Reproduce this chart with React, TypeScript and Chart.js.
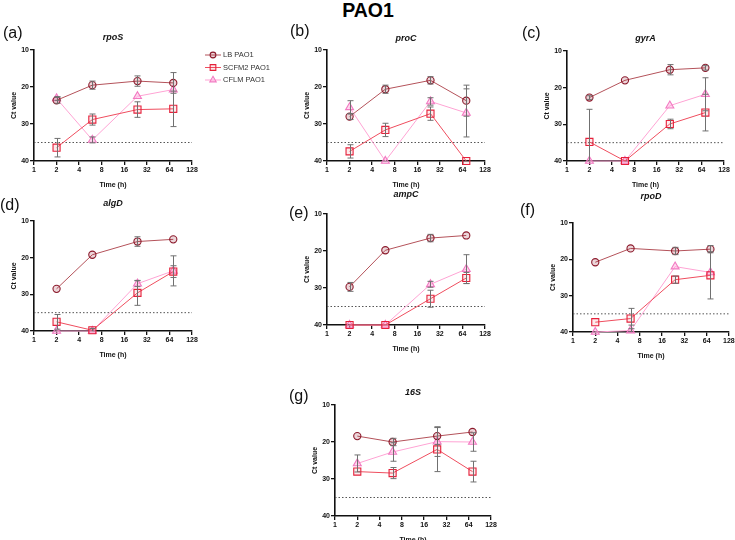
import React, { useEffect, useRef } from 'react';
import { Chart, registerables } from 'chart.js';
Chart.register(...registerables);
Chart.defaults.font.family = "'Liberation Sans', Arial, sans-serif";

// ---------- data ----------
const figureTitle = 'PAO1';
const seriesNames = ['LB PAO1', 'SCFM2 PAO1', 'CFLM PAO1'];
const timePoints = [2, 6, 24, 72];
const xTicks = [1, 2, 4, 8, 16, 32, 64, 128];
const yTicks = [10, 20, 30, 40];
const detectionLimit = 35;
const xTitle = 'Time (h)';
const yTitle = 'Ct value';

const rpoS_LB = [23.6, 19.5, 18.4, 18.9];
const rpoS_LB_err = [0.8, 1.1, 1.4, 2.8];
const rpoS_SCFM2 = [36.4, 28.8, 26.1, 25.9];
const rpoS_SCFM2_err = [2.5, 1.5, 2.1, 4.8];
const rpoS_CFLM = [23.1, 34.3, 22.5, 20.7];
const rpoS_CFLM_err = [0.5, 0.8, 0, 0];

const proC_LB = [28.0, 20.6, 18.2, 23.7];
const proC_LB_err = [0.8, 1.1, 1.0, 4.2];
const proC_SCFM2 = [37.4, 31.6, 27.2, 40];
const proC_SCFM2_err = [1.8, 1.8, 1.8, 0];
const proC_CFLM = [25.5, 40, 23.9, 27.0];
const proC_CFLM_err = [1.8, 0, 1.0, 6.5];

const gyrA_LB = [22.7, 18.0, 15.1, 14.6];
const gyrA_LB_err = [0.5, 0, 1.4, 0.6];
const gyrA_SCFM2 = [34.8, 40, 29.9, 26.8];
const gyrA_SCFM2_err = [8.9, 0, 1.3, 5.0];
const gyrA_CFLM = [40, 40, 24.9, 21.8];
const gyrA_CFLM_err = [0, 0, 0, 4.5];

const algD_LB = [28.5, 19.2, 15.6, 15.0];
const algD_LB_err = [0, 0, 1.3, 0];
const algD_SCFM2 = [37.5, 39.8, 29.6, 23.8];
const algD_SCFM2_err = [2.0, 0.5, 3.4, 1.6];
const algD_CFLM = [40, 40, 27.1, 23.6];
const algD_CFLM_err = [0, 0, 0.8, 4.1];

const ampC_LB = [29.7, 19.8, 16.5, 15.8];
const ampC_LB_err = [1.2, 0, 1.0, 0];
const ampC_SCFM2 = [40, 40, 32.9, 27.3];
const ampC_SCFM2_err = [0, 0, 2.3, 1.5];
const ampC_CFLM = [40, 40, 29.0, 24.9];
const ampC_CFLM_err = [0, 0, 0.8, 3.9];

const rpoD_LB = [20.8, 17.0, 17.7, 17.2];
const rpoD_LB_err = [0, 0, 1.0, 1.0];
const rpoD_SCFM2 = [37.3, 36.3, 25.6, 24.4];
const rpoD_SCFM2_err = [0, 2.8, 1.0, 6.5];
const rpoD_CFLM = [40, 39.6, 22.0, 23.6];
const rpoD_CFLM_err = [0, 1.5, 0, 0];

const s16_LB = [18.4, 20.0, 18.4, 17.3];
const s16_LB_err = [0, 1.0, 2.3, 0];
const s16_SCFM2 = [28.0, 28.4, 22.0, 28.0];
const s16_SCFM2_err = [0, 1.5, 6.0, 2.8];
const s16_CFLM = [25.8, 22.7, 19.9, 20.0];
const s16_CFLM_err = [2.3, 2.5, 4.0, 2.5];

// ---------- panels ----------
const panels = [
  { label: '(a)', gene: 'rpoS', series: [[rpoS_LB, rpoS_LB_err], [rpoS_SCFM2, rpoS_SCFM2_err], [rpoS_CFLM, rpoS_CFLM_err]] },
  { label: '(b)', gene: 'proC', series: [[proC_LB, proC_LB_err], [proC_SCFM2, proC_SCFM2_err], [proC_CFLM, proC_CFLM_err]] },
  { label: '(c)', gene: 'gyrA', series: [[gyrA_LB, gyrA_LB_err], [gyrA_SCFM2, gyrA_SCFM2_err], [gyrA_CFLM, gyrA_CFLM_err]] },
  { label: '(d)', gene: 'algD', series: [[algD_LB, algD_LB_err], [algD_SCFM2, algD_SCFM2_err], [algD_CFLM, algD_CFLM_err]] },
  { label: '(e)', gene: 'ampC', series: [[ampC_LB, ampC_LB_err], [ampC_SCFM2, ampC_SCFM2_err], [ampC_CFLM, ampC_CFLM_err]] },
  { label: '(f)', gene: 'rpoD', series: [[rpoD_LB, rpoD_LB_err], [rpoD_SCFM2, rpoD_SCFM2_err], [rpoD_CFLM, rpoD_CFLM_err]] },
  { label: '(g)', gene: '16S', series: [[s16_LB, s16_LB_err], [s16_SCFM2, s16_SCFM2_err], [s16_CFLM, s16_CFLM_err]] },
];

// ---------- layout (plot rectangles, label positions) ----------
const layouts = [
  { x0: 34, x1: 192, y0: 50, y1: 161, R: 93, lab: [3, 24], geneY: 37, legend: true },
  { x0: 327, x1: 485, y0: 50, y1: 161, R: 14, lab: [290, 22], geneY: 38 },
  { x0: 567, x1: 724, y0: 51, y1: 161, R: 11, lab: [522, 24], geneY: 38 },
  { x0: 34, x1: 192, y0: 221, y1: 331, R: 14, lab: [0, 196], geneY: 203 },
  { x0: 327, x1: 485, y0: 214, y1: 325, R: 14, lab: [289, 204], geneY: 194 },
  { x0: 573, x1: 729, y0: 223, y1: 332, R: 6, lab: [520, 201], geneY: 196 },
  { x0: 335, x1: 491, y0: 405, y1: 516, R: 14, lab: [289, 387], geneY: 392 },
];
const YW = 29;
const PT = 12;
const XH = 28;

const seriesStyles = [
  { line: '#b4525a', border: '#8c1a2c', fill: 'rgba(150,30,50,0.18)', point: 'circle', r: 3.6 },
  { line: '#ef4d5e', border: '#e5213b', fill: 'rgba(240,80,100,0.12)', point: 'rect', r: 5 },
  { line: '#ffa3d4', border: '#f27ac2', fill: 'rgba(255,170,220,0.45)', point: 'triangle', r: 4.6 },
];

function drawMarker(ctx: CanvasRenderingContext2D, style: string, x: number, y: number, r: number, stroke: string, fill: string) {
  ctx.save();
  ctx.beginPath();
  if (style === 'circle') ctx.arc(x, y, r, 0, Math.PI * 2);
  else if (style === 'rect') { const s = r * Math.SQRT1_2; ctx.rect(x - s, y - s, 2 * s, 2 * s); }
  else {
    let a = 0;
    ctx.moveTo(x + Math.sin(a) * r, y - Math.cos(a) * r);
    a += (2 * Math.PI) / 3; ctx.lineTo(x + Math.sin(a) * r, y - Math.cos(a) * r);
    a += (2 * Math.PI) / 3; ctx.lineTo(x + Math.sin(a) * r, y - Math.cos(a) * r);
    ctx.closePath();
  }
  ctx.fillStyle = fill; ctx.fill();
  ctx.strokeStyle = stroke; ctx.lineWidth = 1.1; ctx.stroke();
  ctx.restore();
}

const errorBarPlugin = {
  id: 'errorBars',
  afterDatasetsDraw(chart: any) {
    const { ctx, chartArea, scales } = chart;
    const ys = scales.y;
    ctx.save();
    ctx.beginPath();
    ctx.rect(chartArea.left - 5, chartArea.top - 1, chartArea.right - chartArea.left + 10, chartArea.bottom - chartArea.top + 1);
    ctx.clip();
    ctx.strokeStyle = '#707070';
    ctx.lineWidth = 1;
    chart.data.datasets.forEach((ds: any, di: number) => {
      const errs = ds.errors;
      if (!errs) return;
      const meta = chart.getDatasetMeta(di);
      meta.data.forEach((pt: any, i: number) => {
        const e = errs[i];
        if (!e) return;
        const v = ds.data[i].y;
        const yA = ys.getPixelForValue(v - e);
        const yB = ys.getPixelForValue(v + e);
        const x = Math.round(pt.x) + 0.5;
        ctx.beginPath();
        ctx.moveTo(x, yA); ctx.lineTo(x, yB);
        ctx.moveTo(x - 3, yA); ctx.lineTo(x + 3, yA);
        ctx.moveTo(x - 3, yB); ctx.lineTo(x + 3, yB);
        ctx.stroke();
      });
    });
    ctx.restore();
  },
};

const legendPlugin = {
  id: 'sideLegend',
  afterDraw(chart: any) {
    const { ctx, chartArea } = chart;
    const mx = chartArea.right + 21;
    const rows = [17, 29.5, 42];
    ctx.save();
    seriesNames.forEach((name, i) => {
      const st = seriesStyles[i];
      const y = rows[i];
      ctx.strokeStyle = st.line; ctx.lineWidth = 1;
      ctx.beginPath(); ctx.moveTo(mx - 8, y); ctx.lineTo(mx + 8, y); ctx.stroke();
      drawMarker(ctx, st.point, mx, y, st.r * 0.8, st.border, st.fill);
      ctx.fillStyle = '#333';
      ctx.font = "7.5px 'Liberation Sans', Arial, sans-serif";
      ctx.textBaseline = 'middle';
      ctx.textAlign = 'left';
      ctx.fillText(name, mx + 10, y);
    });
    ctx.restore();
  },
};

function Panel({ idx }: { idx: number }) {
  const ref = useRef<HTMLCanvasElement>(null);
  const p = panels[idx];
  const L = layouts[idx];
  const left = L.x0 - YW;
  const top = L.y0 - PT;
  const width = YW + (L.x1 - L.x0) + L.R;
  const height = PT + (L.y1 - L.y0) + XH;

  useEffect(() => {
    const datasets: any[] = p.series.map(([vals, errs], si) => {
      const st = seriesStyles[si];
      return {
        label: seriesNames[si],
        data: timePoints.map((t, i) => ({ x: t, y: vals[i] })),
        errors: errs,
        borderColor: st.line,
        borderWidth: 1,
        pointStyle: st.point,
        pointRadius: st.r,
        pointBorderColor: st.border,
        pointBackgroundColor: st.fill,
        pointBorderWidth: 1.1,
        tension: 0,
        clip: false,
      };
    });
    datasets.push({
      label: 'limit',
      data: [{ x: xTicks[0], y: detectionLimit }, { x: xTicks[xTicks.length - 1], y: detectionLimit }],
      borderColor: '#555',
      borderWidth: 1,
      borderDash: [1.5, 2],
      pointRadius: 0,
    });
    const tickFont = { size: 7, weight: 'bold' as const };
    const chart = new Chart(ref.current!, {
      type: 'line',
      data: { datasets },
      plugins: L.legend ? [errorBarPlugin, legendPlugin] : [errorBarPlugin],
      options: {
        responsive: false,
        maintainAspectRatio: false,
        animation: false,
        devicePixelRatio: 1,
        events: [],
        layout: { padding: { left: 0, top: PT, right: L.R, bottom: 0 } },
        plugins: { legend: { display: false }, tooltip: { enabled: false }, title: { display: false } },
        scales: {
          x: {
            type: 'logarithmic',
            min: xTicks[0],
            max: xTicks[xTicks.length - 1],
            afterBuildTicks: (s: any) => { s.ticks = xTicks.map((v) => ({ value: v })); },
            afterFit: (s: any) => { s.height = XH; s.paddingLeft = 0; s.paddingRight = 0; },
            ticks: {
              autoSkip: false, maxRotation: 0, minRotation: 0, padding: 1, color: '#111',
              font: tickFont, callback: (v: any) => String(v),
            },
            grid: { drawOnChartArea: false, drawTicks: true, tickLength: 4, color: '#111', lineWidth: 1.3 },
            border: { display: true, color: '#111', width: 1.6 },
            title: { display: true, text: xTitle, color: '#111', font: { size: 7, weight: 'bold' }, padding: { top: 5, bottom: 0 } },
          },
          y: {
            type: 'linear',
            reverse: true,
            min: yTicks[0],
            max: yTicks[yTicks.length - 1],
            afterBuildTicks: (s: any) => { s.ticks = yTicks.map((v) => ({ value: v })); },
            afterFit: (s: any) => { s.width = YW; s.paddingTop = 0; s.paddingBottom = 0; },
            ticks: { padding: 1, color: '#111', font: tickFont, callback: (v: any) => String(v) },
            grid: { drawOnChartArea: false, drawTicks: true, tickLength: 4, color: '#111', lineWidth: 1.3 },
            border: { display: true, color: '#111', width: 1.6 },
            title: { display: true, text: yTitle, color: '#111', font: { size: 7, weight: 'bold' }, padding: { top: 5, bottom: 0 } },
          },
        },
      } as any,
    });
    return () => chart.destroy();
  }, []);

  const cx = (L.x0 + L.x1) / 2;
  return (
    <>
      <canvas ref={ref} width={width} height={height}
        style={{ position: 'absolute', left, top, width, height }} />
      <div style={{ position: 'absolute', left: L.lab[0], top: L.lab[1], fontSize: 16, lineHeight: '18px', color: '#111' }}>{p.label}</div>
      <div style={{ position: 'absolute', left: cx - 50, width: 100, top: L.geneY - 6, fontSize: 9, lineHeight: '12px', fontWeight: 'bold', fontStyle: 'italic', textAlign: 'center', color: '#111' }}>{p.gene}</div>
    </>
  );
}

export default function App() {
  return (
    <div style={{ position: 'fixed', left: 0, top: 0, width: 735, height: 540, overflow: 'hidden', background: '#fff', fontFamily: "'Liberation Sans', Arial, sans-serif" }}>
      <div style={{ position: 'absolute', left: 318, width: 100, top: 0, textAlign: 'center', fontSize: 19.5, lineHeight: '20px', fontWeight: 'bold', color: '#000' }}>{figureTitle}</div>
      {panels.map((_, i) => <Panel key={i} idx={i} />)}
    </div>
  );
}
